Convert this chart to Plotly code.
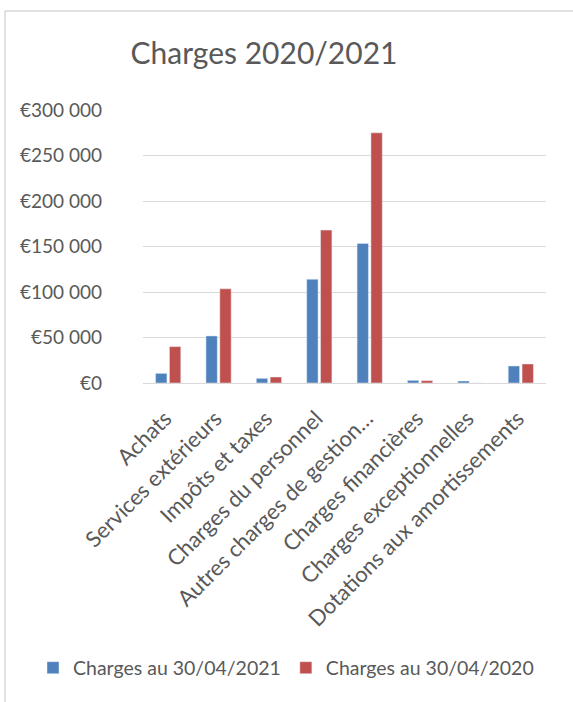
import plotly.graph_objects as go

categories = ["Achats", "Services extérieurs", "Impôts et taxes", "Charges du personnel",
              "Autres charges de gestion…", "Charges financières", "Charges exceptionnelles",
              "Dotations aux amortissements"]
charges_2021 = [10600, 51700, 5100, 114000, 153400, 2900, 2200, 18700]
charges_2020 = [40000, 103500, 6600, 168000, 274900, 2600, 0, 20900]
series_names = ["Charges au 30/04/2021", "Charges au 30/04/2020"]
tick_vals = [0, 50000, 100000, 150000, 200000, 250000, 300000]
tick_text = ["€0", "€50 000", "€100 000", "€150 000", "€200 000", "€250 000", "€300 000"]

W, H = 573, 702
L, T = 143, 110
R = W - 546
B = H - 383
pw, ph = W - L - R, H - T - B

def px_x(p):
    return (p - L) / pw

def px_y(p):
    return (H - B - p) / ph

FONT = "Lato"
TXT = "#595959"

fig = go.Figure()
fig.add_trace(go.Bar(x=categories, y=charges_2021, name=series_names[0], marker_color="#4F81BD"))
fig.add_trace(go.Bar(x=categories, y=charges_2020, name=series_names[1], marker_color="#C0504D"))

fig.update_layout(
    width=W, height=H,
    margin=dict(l=L, r=R, t=T, b=B, autoexpand=False),
    paper_bgcolor="white", plot_bgcolor="white",
    barmode="group", bargap=0.45, bargroupgap=0.18,
    font=dict(family=FONT, color=TXT, size=19),
    title=dict(text="Charges 2020/2021", xref="container", x=264 / W, xanchor="center",
               yref="container", y=1 - 53 / H, yanchor="middle",
               font=dict(size=30, color=TXT, family=FONT)),
    showlegend=True,
    legend=dict(orientation="h", xref="paper", yref="paper",
                x=px_x(33), xanchor="left", y=px_y(668), yanchor="middle",
                font=dict(size=19.5, color=TXT), itemwidth=30, tracegroupgap=0,
                bgcolor="rgba(0,0,0,0)"),
    shapes=[
        dict(type="line", xref="paper", yref="paper", x0=px_x(5), x1=px_x(W + 40), y0=px_y(11), y1=px_y(11),
             line=dict(color="#D9D9D9", width=1.5)),
        dict(type="line", xref="paper", yref="paper", x0=px_x(5), x1=px_x(5), y0=px_y(11), y1=px_y(H + 40),
             line=dict(color="#D9D9D9", width=1.5)),
    ],
)
fig.update_yaxes(range=[0, 300000], tickvals=tick_vals, ticktext=tick_text,
                 showgrid=True, gridcolor="#D9D9D9", gridwidth=1, zeroline=False,
                 showline=False, ticks="", ticklabelstandoff=40,
                 tickfont=dict(size=19, color=TXT))
fig.update_xaxes(tickangle=-45, showline=True, linecolor="#D9D9D9", linewidth=1,
                 ticks="", ticklabelstandoff=13, ticklabelshift=-3,
                 tickfont=dict(size=22, color=TXT))

fig.write_html("out.html", config={"displayModeBar": False},
               post_script="document.body.style.margin='0px';")
